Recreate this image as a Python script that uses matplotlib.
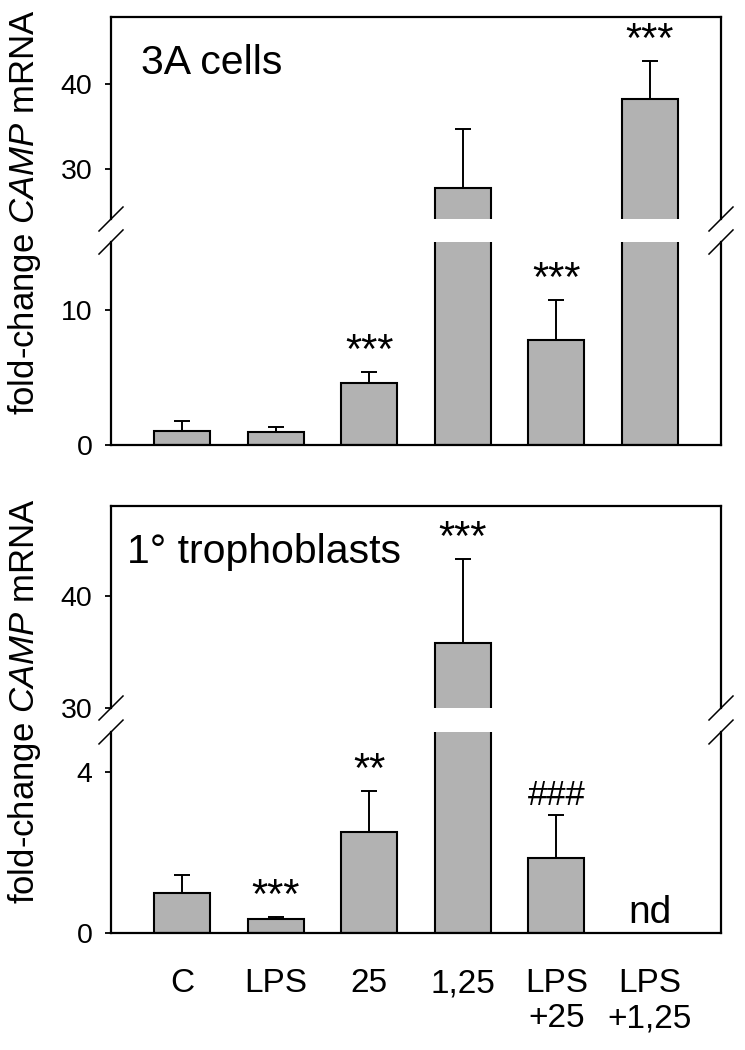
import numpy as np
import matplotlib
matplotlib.use("Agg")
import matplotlib.pyplot as plt

plt.rcParams['font.family'] = ['Liberation Sans', 'DejaVu Sans']
plt.rcParams['mathtext.fontset'] = 'custom'
plt.rcParams['mathtext.rm'] = 'Liberation Sans'
plt.rcParams['mathtext.it'] = 'Liberation Sans:italic'

categories = ["C", "LPS", "25", "1,25", "LPS\n+25", "LPS\n+1,25"]

# 3A cells
cells_mean = [1.0, 0.95, 4.56, 27.7, 7.78, 38.3]
cells_err = [0.75, 0.35, 0.83, 7.0, 2.94, 4.5]
cells_sig = ["", "", "***", "", "***", "***"]

# 1° trophoblasts (LPS+1,25 not detected)
troph_mean = [0.99, 0.36, 2.51, 35.8, 1.87, np.nan]
troph_err = [0.45, 0.03, 1.03, 7.5, 1.06, np.nan]
troph_sig = ["", "***", "**", "***", "###", ""]

# broken y axis: (lower segment, upper segment)
cells_ylim = [(0, 15), (24, 48)]
cells_yticks = [[0, 10], [30, 40]]
troph_ylim = [(0, 5), (30, 48)]
troph_yticks = [[0, 4], [30, 40]]

GRAY = "#b2b2b2"
W, H = 745, 1050
L, AW = 111 / W, 610 / W


def box(top_px, bot_px):
    return [L, 1 - bot_px / H, AW, (bot_px - top_px) / H]


def panel(ax_hi, ax_lo, means, errs, sig, ylims, yticks, title, tx, show_x):
    means = np.array(means)
    errs = np.array(errs)
    x = np.arange(len(categories))
    ok = ~np.isnan(means)
    for ax in (ax_hi, ax_lo):
        ax.bar(x[ok], means[ok], width=0.6, color=GRAY, edgecolor="black",
               linewidth=1.5, zorder=2)
        ax.errorbar(x[ok], means[ok], yerr=[np.zeros(ok.sum()), errs[ok]],
                    fmt="none", ecolor="black", elinewidth=1.4, capsize=6,
                    capthick=1.4, zorder=3)
        ax.set_xlim(-0.76, 5.76)
        for s in ax.spines.values():
            s.set_linewidth(1.6)
        ax.tick_params(axis="y", direction="out", length=4.5, width=1.3,
                       labelsize=20.5, pad=9)
    ax_lo.set_ylim(*ylims[0])
    ax_hi.set_ylim(*ylims[1])
    ax_lo.set_yticks(yticks[0])
    ax_hi.set_yticks(yticks[1])
    ax_hi.spines["bottom"].set_visible(False)
    ax_lo.spines["top"].set_visible(False)
    ax_hi.tick_params(axis="x", bottom=False, labelbottom=False)
    ax_lo.set_xticks(x)
    if show_x:
        ax_lo.set_xticklabels(categories, fontsize=24, linespacing=1.15)
        ax_lo.tick_params(axis="x", bottom=False, length=0, pad=25.5)
    else:
        ax_lo.tick_params(axis="x", bottom=False, labelbottom=False)

    # break marks on both side spines
    dx, dy = 12 / 610, 12 / 202
    kw = dict(color="black", lw=1.1, clip_on=False)
    for xe in (0, 1):
        ax_hi.plot([xe - dx, xe + dx], [-dy, dy], transform=ax_hi.transAxes, **kw)
        ax_lo.plot([xe - dx, xe + dx], [1 - dy, 1 + dy], transform=ax_lo.transAxes, **kw)

    # significance marks above the error bars
    for xi, m, e, s in zip(x, means, errs, sig):
        if not s:
            continue
        top = m + e
        ax = ax_hi if top > ylims[1][0] else ax_lo
        if s.startswith("#"):
            ax.annotate(s, (xi, top), xytext=(0, 7), textcoords="offset points",
                        ha="center", va="baseline", fontsize=25,
                        annotation_clip=False)
        else:
            ax.annotate(s, (xi, top), xytext=(0, 6.5), textcoords="offset points",
                        ha="center", va="baseline", fontsize=30,
                        annotation_clip=False)

    ax_hi.text(tx, 0.72, title, transform=ax_hi.transAxes, fontsize=29.5,
               ha="left", va="baseline")


fig = plt.figure(figsize=(W / 100, H / 100), dpi=100)

a_hi = fig.add_axes(box(17, 219))
a_lo = fig.add_axes(box(242, 445))
panel(a_hi, a_lo, cells_mean, cells_err, cells_sig, cells_ylim, cells_yticks,
      "3A cells", 0.049, False)

b_hi = fig.add_axes(box(506, 708))
b_lo = fig.add_axes(box(732, 933))
panel(b_hi, b_lo, troph_mean, troph_err, troph_sig, troph_ylim, troph_yticks,
      "1° trophoblasts", 0.026, True)
b_lo.text(5, 0.24, "nd", ha="center", va="baseline", fontsize=28)

ylab = "fold-change $\\mathit{CAMP}$ mRNA"
fig.text(25 / W, 1 - 212 / H, ylab, rotation=90, ha="center", va="center", fontsize=25)
fig.text(25 / W, 1 - 701 / H, ylab, rotation=90, ha="center", va="center", fontsize=25)

fig.savefig("out.png", dpi=100)
